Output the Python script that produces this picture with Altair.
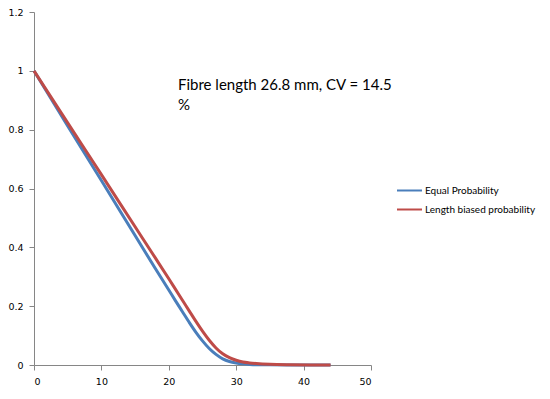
import altair as alt
import pandas as pd

# Data
x_vals = [0, 5, 10, 15, 18, 20, 21, 22, 23, 24, 25, 26, 27, 28, 29, 30, 31, 32, 33, 35, 38, 41, 44]
equal_prob = [1.0, 0.813, 0.627, 0.44, 0.328, 0.255, 0.218, 0.182, 0.146, 0.112, 0.082, 0.056,
              0.036, 0.021, 0.012, 0.007, 0.004, 0.002, 0.001, 0.0005, 0.0002, 0.0001, 0.0]
length_biased = [1.0, 0.823, 0.647, 0.47, 0.364, 0.293, 0.257, 0.221, 0.185, 0.149, 0.115, 0.084,
                 0.058, 0.038, 0.025, 0.016, 0.010, 0.007, 0.005, 0.0025, 0.001, 0.0004, 0.0002]
series_names = ["Equal Probability", "Length biased probability"]
series_colors = ["#4A7EBB", "#BE4B48"]
x_ticks = [0, 10, 20, 30, 40, 50]
y_ticks = [0, 0.2, 0.4, 0.6, 0.8, 1.0, 1.2]
annotation = ["Fibre length 26.8 mm, CV = 14.5", "%"]

rows = []
for name, ys in zip(series_names, [equal_prob, length_biased]):
    for xv, yv in zip(x_vals, ys):
        rows.append({"x": xv, "y": yv, "series": name})
df = pd.DataFrame(rows)

axis_common = dict(
    title=None, grid=False, domainColor="#868686", tickColor="#868686",
    tickSize=5, labelFont="DejaVu Sans", labelFontSize=9.5, labelColor="#000000",
    labelPadding=6,
)

lines = alt.Chart(df).mark_line(strokeWidth=3, interpolate="monotone").encode(
    x=alt.X("x:Q", scale=alt.Scale(domain=[0, 50], nice=False),
            axis=alt.Axis(values=x_ticks, format="d", **axis_common)),
    y=alt.Y("y:Q", scale=alt.Scale(domain=[0, 1.2], nice=False),
            axis=alt.Axis(values=y_ticks, format="~g", **axis_common)),
    color=alt.Color("series:N",
                    scale=alt.Scale(domain=series_names, range=series_colors),
                    legend=alt.Legend(title=None, orient="none", legendX=362, legendY=165,
                                      symbolType="stroke", symbolSize=625,
                                      symbolStrokeWidth=2, labelFont="Lato",
                                      labelFontSize=10, labelColor="#000000",
                                      labelOffset=2, rowPadding=-1)),
)

text = alt.Chart(alt.Data(values=[{}])).mark_text(
    text=annotation, align="left", baseline="alphabetic", font="Lato",
    fontSize=15, lineHeight=20, color="#000000"
).encode(x=alt.value(144), y=alt.value(78))

chart = alt.layer(lines, text).properties(
    width=337, height=353,
    autosize=alt.AutoSizeParams(type="none"),
    padding={"left": 26, "top": 4, "right": 171, "bottom": 26},
).configure_view(stroke=None)

chart.save("out.html", embed_options={"renderer": "svg", "actions": False})
